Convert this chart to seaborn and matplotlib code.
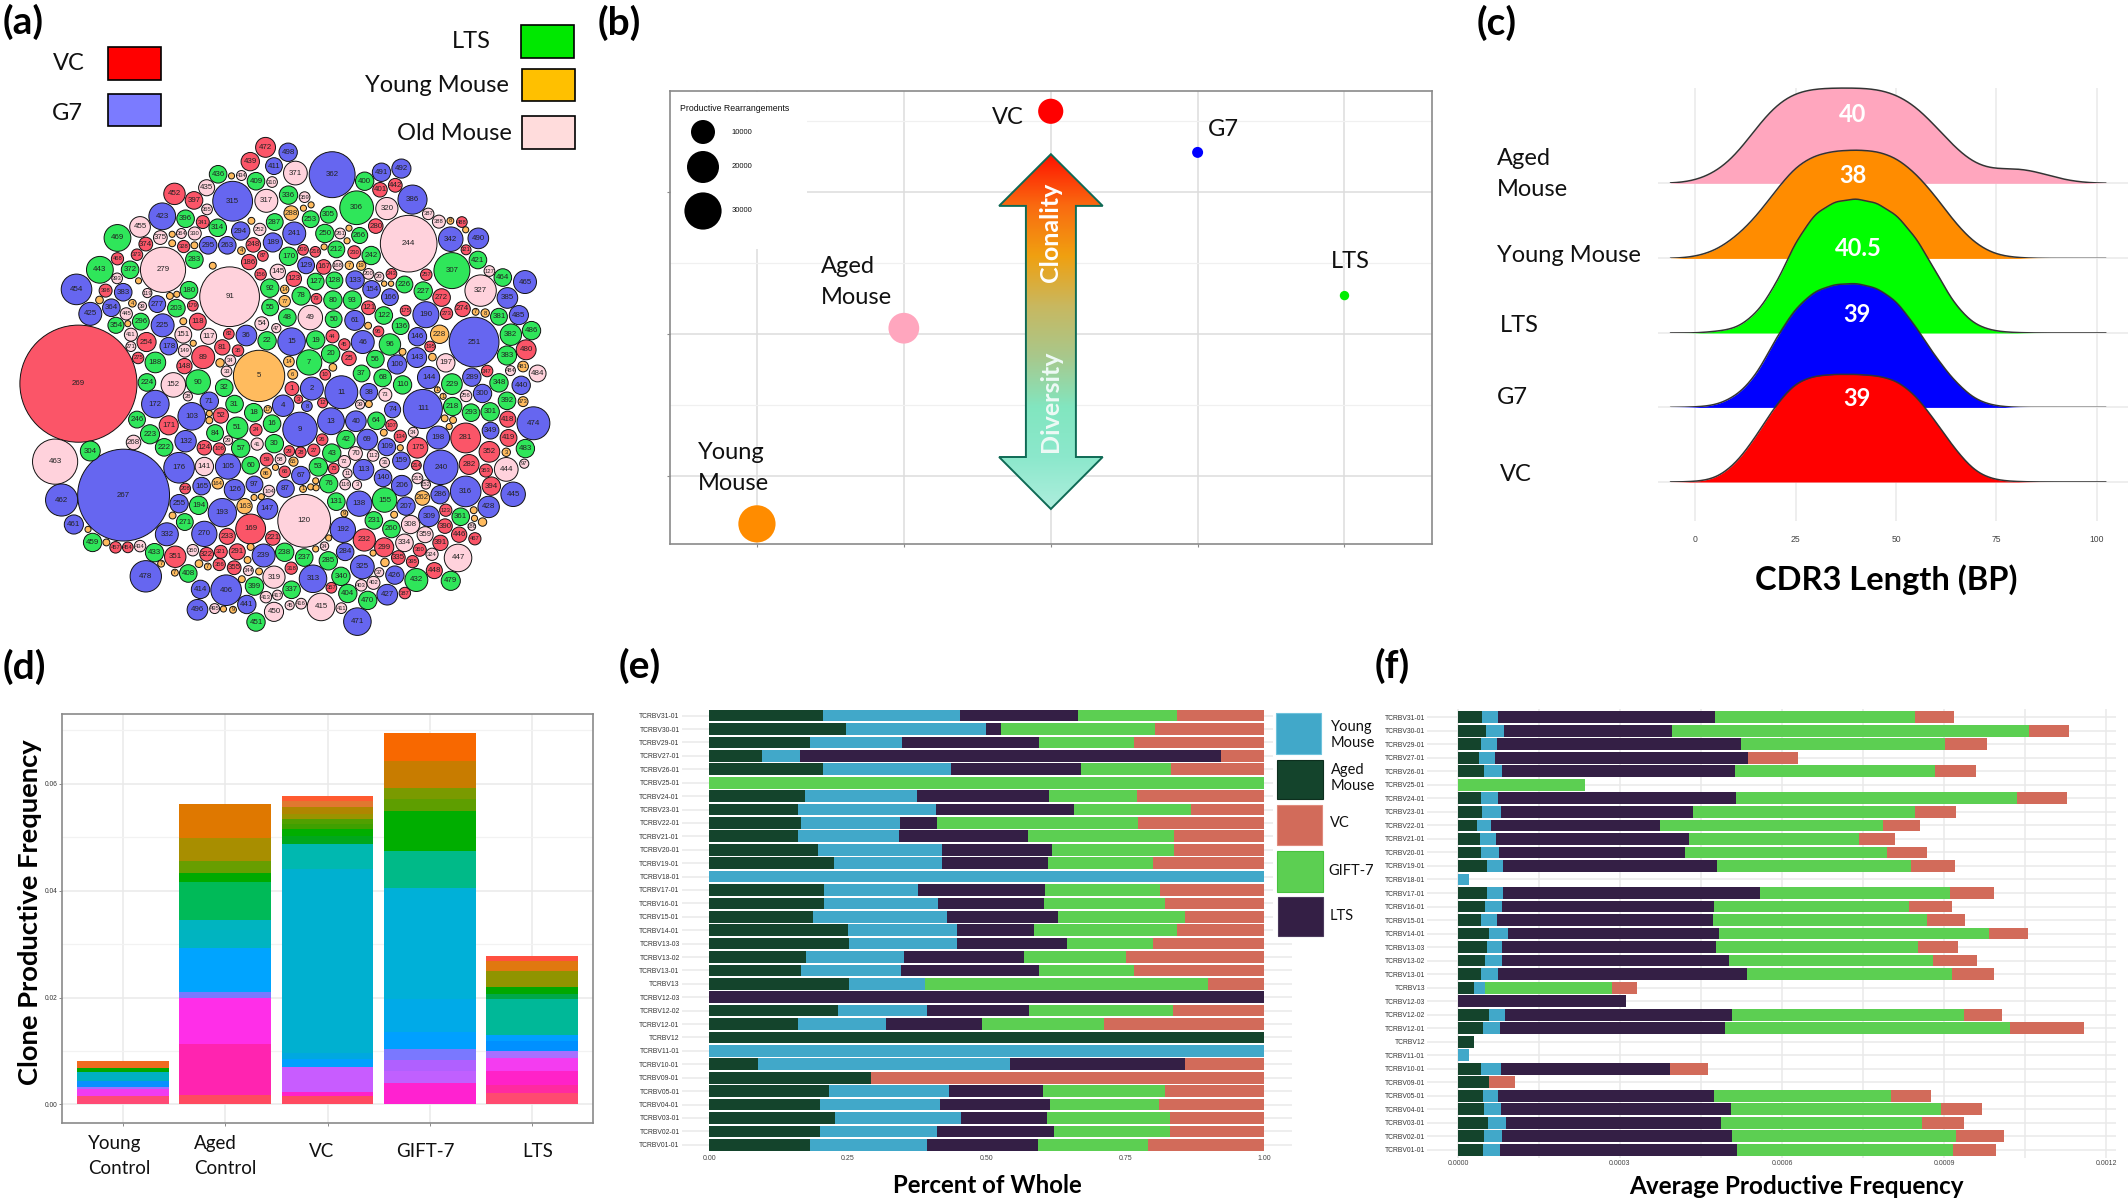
import numpy as np
import pandas as pd
import seaborn as sns
import matplotlib
matplotlib.use("Agg")
import matplotlib.pyplot as plt
from matplotlib.colors import LinearSegmentedColormap
from matplotlib.patches import Polygon, Rectangle
from matplotlib.ticker import MultipleLocator

# (a) clone bubbles: (clone id, x, y, radius), id 0 = label unreadable
vc_bubbles = [(269,205,940,153),(472,694,361,26),(439,654,396,24),(452,456,475,28),(397,507,491,23),(341,530,544,17),(442,1033,454,18),(401,993,465,19),(280,982,554,19),(374,381,598,18),(373,358,624,15),(328,480,604,16),(468,307,634,16),(398,276,712,17),(179,504,749,14),(118,517,788,22),(254,383,838,25),(275,361,877,15),(148,482,897,20),(89,531,875,30),(81,581,851,20),(35,622,859,15),(82,598,818,14),(248,662,600,19),(186,651,642,20),(87,687,627,14),(156,681,672,15),(123,768,683,20),(209,792,612,14),(216,824,617,14),(167,846,654,19),(230,926,618,17),(243,1023,671,14),(257,1114,673,15),(79,827,732,14),(121,963,754,18),(175,1060,761,14),(272,1154,729,23),(273,1167,768,16),(274,1209,757,20),(95,989,812,14),(44,869,824,17),(45,900,844,15),(25,912,878,19),(10,850,918,14),(1,763,952,18),(3,780,978,11),(12,843,987,13),(195,1124,849,14),(347,1273,909,15),(480,1375,857,26),(488,1207,544,14),(321,1218,612,13),(52,577,1018,20),(171,441,1042,25),(124,534,1097,19),(106,573,1100,16),(24,669,1053,16),(59,697,1126,17),(66,744,1156,15),(29,756,1105,14),(28,786,1108,14),(27,820,1103,16),(26,842,1077,15),(75,872,1148,14),(107,1023,1042,15),(134,1046,1069,16),(175,1091,1097,27),(214,1088,1140,13),(281,1217,1073,39),(282,1226,1138,26),(352,1279,1107,27),(353,1270,1153,17),(418,1327,1027,21),(419,1329,1073,22),(394,1284,1191,24),(123,1165,1250,16),(390,1163,1289,19),(391,1151,1330,20),(446,1200,1310,20),(467,1241,1320,16),(360,1097,1347,17),(395,1078,1376,16),(335,1041,1366,18),(299,1004,1341,25),(232,952,1323,29),(448,1135,1398,21),(387,1058,1453,15),(357,866,1440,14),(318,761,1392,16),(355,612,1391,18),(356,573,1383,16),(291,620,1352,21),(321,577,1352,17),(322,540,1358,18),(233,594,1314,21),(221,713,1318,19),(169,655,1296,39),(351,458,1364,28),(208,484,1197,14),(457,302,1341,15),(454,334,1341,14)]
g7_bubbles = [(498,753,373,24),(411,716,407,22),(362,868,428,60),(491,997,422,24),(492,1049,413,25),(386,1078,489,38),(315,608,493,52),(423,424,530,35),(294,629,566,24),(241,769,572,30),(189,713,594,25),(295,544,601,23),(263,594,601,23),(342,1178,586,32),(490,1250,584,27),(129,800,650,22),(133,928,686,24),(154,971,709,23),(166,1019,728,22),(465,1372,691,30),(385,1326,730,27),(485,1356,772,25),(454,200,709,40),(383,322,716,23),(364,291,754,23),(277,411,745,22),(425,236,769,30),(225,425,797,30),(36,644,822,27),(190,1113,771,34),(61,927,785,26),(15,762,837,36),(46,948,838,30),(146,1091,825,24),(178,441,848,23),(251,1239,838,65),(143,1089,876,26),(100,1038,893,25),(144,1120,925,29),(2,815,952,30),(11,892,961,43),(38,964,961,23),(172,406,990,36),(71,547,983,24),(4,740,994,28),(8,802,995,14),(289,1233,924,24),(300,1261,964,24),(440,1362,944,24),(103,501,1020,36),(9,784,1052,45),(13,865,1032,35),(40,930,1032,27),(74,1026,1004,21),(111,1105,1002,51),(132,485,1081,28),(349,1282,1055,22),(474,1394,1037,43),(198,1145,1072,30),(69,960,1077,27),(109,1011,1095,23),(159,1049,1129,23),(176,468,1146,40),(105,596,1143,33),(240,1152,1145,45),(113,950,1151,27),(67,786,1165,24),(140,1001,1171,23),(206,1050,1190,27),(165,527,1191,23),(97,665,1187,22),(87,746,1197,23),(126,613,1200,27),(316,1217,1204,40),(286,1150,1212,24),(445,1341,1211,32),(462,161,1225,42),(267,323,1213,120),(255,468,1234,24),(138,939,1234,33),(207,1061,1240,24),(428,1277,1242,28),(147,699,1247,27),(193,581,1256,37),(309,1121,1265,27),(461,193,1285,25),(192,896,1298,33),(332,436,1309,30),(270,534,1308,33),(284,902,1352,23),(239,689,1361,30),(325,947,1389,31),(426,1032,1409,24),(313,818,1418,36),(478,381,1412,41),(414,524,1444,24),(406,591,1446,40),(427,1012,1457,27),(441,645,1481,24),(496,516,1494,27),(471,934,1523,36)]
lts_bubbles = [(436,570,427,23),(409,669,444,23),(400,953,444,24),(336,754,478,24),(306,932,509,44),(305,859,526,22),(396,485,536,23),(253,812,537,22),(287,718,544,22),(314,569,558,23),(250,849,572,24),(266,940,577,21),(469,307,583,35),(283,508,636,23),(170,754,628,24),(212,879,611,22),(242,970,626,24),(421,1249,637,23),(307,1181,663,47),(443,261,661,35),(372,340,661,23),(127,825,690,22),(128,874,687,22),(226,1057,697,22),(464,1314,680,23),(227,1106,713,24),(180,494,711,23),(92,705,706,24),(78,787,725,24),(80,870,735,24),(93,921,735,24),(203,461,755,23),(55,706,753,22),(48,751,778,23),(50,872,782,22),(122,1003,773,23),(381,1304,776,22),(136,1047,799,22),(296,368,788,22),(354,303,797,21),(22,698,835,24),(19,825,833,24),(382,1335,820,28),(486,1389,810,24),(96,1019,844,28),(20,864,867,24),(56,981,880,23),(7,808,888,33),(383,1325,871,25),(188,406,888,27),(37,945,915,22),(68,1000,926,23),(110,1052,943,24),(224,384,937,23),(90,518,936,32),(32,586,950,23),(229,1181,941,27),(348,1304,938,24),(392,1325,982,23),(31,613,990,23),(18,663,1011,24),(218,1183,996,24),(293,1231,1011,23),(301,1281,1009,24),(16,711,1038,23),(64,984,1031,23),(51,620,1048,28),(246,358,1028,22),(84,562,1061,22),(223,392,1064,25),(222,429,1096,23),(42,904,1077,24),(30,717,1087,24),(57,629,1098,24),(43,867,1110,24),(483,1373,1099,24),(304,236,1105,26),(60,655,1140,23),(53,832,1144,24),(76,859,1185,24),(131,879,1229,23),(155,1005,1225,32),(194,519,1238,24),(231,977,1275,23),(271,483,1279,22),(361,1204,1266,23),(260,1023,1296,23),(238,744,1353,24),(237,795,1366,23),(285,858,1374,24),(433,404,1354,24),(459,242,1329,24),(408,492,1405,23),(340,891,1412,24),(432,1088,1421,30),(479,1178,1423,25),(337,762,1445,23),(399,665,1436,24),(404,909,1454,24),(470,961,1471,24),(451,669,1524,24)]
young_bubbles = [(5,677,921,67),(228,1149,819,24),(288,761,522,19),(77,744,738,15),(14,755,886,14),(6,765,917,13),(163,639,1240,20),(164,569,1184,15),(65,767,1131,12),(86,695,1159,14),(262,1104,1220,19),(481,1367,898,14),(373,1367,984,13),(3,1323,1108,11),(14,744,709,11),(7,913,650,11),(19,944,651,12),(0,605,431,8),(0,657,541,9),(0,793,510,8),(0,813,502,8),(0,912,559,8),(0,907,590,8),(0,847,605,8),(4,631,614,10),(0,556,651,9),(0,450,574,8),(0,450,596,9),(0,508,601,9),(0,444,725,9),(0,462,721,8),(4,346,743,10),(0,362,688,8),(0,260,735,10),(0,334,793,8),(0,479,787,9),(0,505,841,8),(0,575,889,11),(0,962,798,9),(0,1022,695,7),(0,1004,695,7),(7,1243,764,9),(8,1268,767,11),(0,1052,862,9),(0,1130,875,10),(0,870,900,10),(1,1143,955,8),(1,1158,971,8),(17,700,1003,10),(0,964,990,9),(0,1162,1025,9),(0,1184,1029,9),(0,1174,1045,8),(0,1003,1060,9),(0,1046,1097,8),(0,547,1013,8),(0,547,1030,9),(0,720,1145,8),(0,1217,563,8),(8,1177,541,9),(0,655,1340,9),(0,647,1372,9),(0,677,1400,9),(0,632,1419,9),(1,792,1198,9),(0,812,1193,8),(0,825,1178,8),(0,826,1195,8),(0,683,1217,8),(0,664,1219,8),(9,900,1258,9),(0,1030,1261,9),(0,859,1318,8),(0,825,1345,8),(0,975,1355,8),(0,1006,1378,11),(0,1238,1250,9),(0,1240,1270,8),(0,1261,1279,11),(0,451,1263,9),(0,230,1297,8),(0,278,1329,9),(7,421,1381,9),(7,457,1403,9),(0,520,1381,10),(7,543,1388,9),(0,584,1492,8),(9,609,1494,9)]
old_bubbles = [(371,772,424,31),(317,696,492,30),(435,540,460,21),(455,366,556,27),(320,1011,511,29),(244,1068,597,74),(279,426,661,59),(330,509,572,17),(375,419,582,18),(365,541,513,14),(364,474,572,13),(359,796,483,14),(434,631,430,13),(310,711,446,14),(252,679,562,16),(261,889,572,14),(387,1119,524,15),(388,1147,543,17),(91,600,727,78),(145,726,666,20),(327,1256,712,41),(127,1279,664,14),(49,811,778,32),(54,684,793,18),(47,722,804,12),(168,883,650,13),(200,963,671,14),(20,991,678,12),(393,306,682,14),(119,385,718,12),(445,330,769,16),(39,372,750,11),(411,342,820,17),(271,342,849,13),(151,479,820,22),(117,545,824,21),(149,483,859,17),(34,602,883,14),(33,592,910,14),(197,1165,889,24),(484,1334,908,13),(484,1405,915,22),(152,453,943,32),(28,491,971,12),(73,1007,967,17),(256,1218,970,15),(39,941,991,12),(34,1080,1059,13),(268,349,1084,19),(463,144,1131,59),(141,534,1143,24),(29,596,1079,12),(41,672,1088,16),(58,733,1125,14),(72,900,1131,16),(70,929,1111,18),(112,975,1116,15),(31,1005,1133,13),(11,908,1160,12),(215,1091,1172,14),(152,1113,1187,12),(116,902,1187,14),(3,933,1188,12),(104,703,1203,15),(120,795,1276,69),(444,1323,1150,31),(97,1370,1136,12),(308,1073,1285,24),(359,1111,1310,21),(334,1057,1330,23),(324,1129,1358,16),(447,1197,1367,36),(186,1233,1290,10),(350,504,1348,15),(434,366,1338,15),(34,848,1338,11),(319,716,1414,29),(344,649,1398,13),(403,944,1434,15),(402,976,1428,17),(37,991,1402,12),(415,839,1487,36),(413,695,1463,15),(417,725,1458,13),(45,757,1483,12),(416,787,1479,14),(411,892,1490,14),(450,716,1499,25),(495,561,1491,13)]

# (b) clonality vs diversity
b_groups = ["Young Mouse", "Aged Mouse", "VC", "G7", "LTS"]
b_xpos = [0, 1, 2, 3, 4]
b_clonality = [-0.34, 1.04, 2.57, 2.28, 1.27]
b_rearrangements = [30000, 20500, 13700, 2620, 1910]

# (c) CDR3 length ridges, height of each curve at cdr3_x
cdr3_x = [0,5,10,15,20,25,30,35,40,45,50,55,60,65,70,75,80,85,90,95,100]
aged_ridge = [5,26,66,141,206,236,244,245,245,244,231,201,146,86,43,34,41,31,13,3,0]
young_ridge = [4,19,54,104,174,239,267,277,279,277,261,219,159,86,34,8,2,0,0,0,0]
lts_ridge = [0,4,11,46,121,236,311,339,346,336,306,246,156,66,18,4,1,0,0,0,0]
g7_ridge = [1,5,27,77,177,257,302,317,320,309,277,207,127,62,17,3,0,0,0,0,0]
vc_ridge = [1,7,44,114,199,259,274,277,277,274,264,224,154,79,21,4,1,0,0,0,0]
ridge_medians = ["40", "38", "40.5", "39", "39"]

# (d) stacked clone frequencies, top of every band
d_labels = ["Young Control", "Aged Control", "VC", "GIFT-7", "LTS"]
d_young = [.00154,.00288,.00321,.00442,.00609,.00690,.00804]
d_aged = [.00174,.01125,.01995,.02103,.02926,.03448,.04172,.04332,.04547,.04995,.05618]
d_vc = [.00154,.00241,.00696,.00844,.00958,.04406,.04881,.05022,.05156,.05243,.05343,.05444,.05564,.05678,.05779]
d_gift = [.00395,.00623,.00824,.01038,.01346,.01975,.04051,.04741,.05290,.05497,.05718,.05919,.06435,.06957]
d_lts = [.00208,.00368,.00623,.00870,.00991,.01192,.01306,.01975,.02062,.02190,.02498,.02685,.02786]

# (e) and (f) V gene usage, right end of each stacked segment
genes = ["TCRBV31-01","TCRBV30-01","TCRBV29-01","TCRBV27-01","TCRBV26-01","TCRBV25-01","TCRBV24-01","TCRBV23-01","TCRBV22-01","TCRBV21-01","TCRBV20-01","TCRBV19-01","TCRBV18-01","TCRBV17-01","TCRBV16-01","TCRBV15-01","TCRBV14-01","TCRBV13-03","TCRBV13-02","TCRBV13-01","TCRBV13","TCRBV12-03","TCRBV12-02","TCRBV12-01","TCRBV12","TCRBV11-01","TCRBV10-01","TCRBV09-01","TCRBV05-01","TCRBV04-01","TCRBV03-01","TCRBV02-01","TCRBV01-01"]
e_aged = [.205,.246,.182,.094,.205,0,.173,.159,.166,.160,.195,.225,0,.206,.206,.186,.250,.252,.174,.166,.251,0,.232,.160,1,0,.088,.291,.216,.200,.226,.199,.181]
e_young = [.452,.498,.348,.164,.436,0,.375,.409,.343,.341,.420,.419,1,.377,.412,.429,.446,.446,.351,.345,.389,0,.393,.318,1,1,.542,.291,.432,.416,.454,.410,.392]
e_lts = [.665,.525,.595,.923,.670,0,.613,.658,.411,.574,.618,.610,1,.605,.603,.628,.586,.645,.568,.594,.389,1,.576,.491,1,1,.858,.291,.601,.614,.609,.622,.593]
e_gift = [.843,.804,.765,.923,.832,1,.771,.869,.772,.837,.838,.800,1,.812,.821,.858,.843,.800,.751,.765,.899,1,.836,.712,1,1,.858,.291,.822,.810,.830,.830,.791]
e_vc = [1] * 33
# f values are in units of 1e-6
f_aged = [43.8,52.5,43.2,39.5,48.2,0,43.2,43.8,35.8,41.4,42,53.1,0,53.1,50,42,58,53.1,49.4,42,29,0,56.8,46.3,29,0,43.2,58,46.3,47.5,56.2,48.2,46.3]
f_young = [74,84.6,72.8,67.9,82.1,0,74,79,60.5,71,75.9,82.7,21,84,80.9,72.8,92,82.1,80.9,74,50,0,87,77.8,29,21,79.6,58,74.7,80.2,89.5,82.1,78.4]
f_lts = [476.6,396.9,523.5,536.4,513.6,0,515.4,434.6,373.5,428.4,421,479,21,559.3,474.7,472.8,484,478.4,501.3,535.2,50,311.7,508,495,29,21,392,58,474,506.2,486.4,508,517.3]
f_gift = [845.6,1057,901.8,536.4,882.7,235.2,1035.8,846.9,786.4,743.2,793.8,838.9,21,911.7,835.8,868.5,984,851.2,879.6,914.2,285.8,311.7,936.4,1022.2,29,21,392,58,802.4,893.8,859.8,922.8,916.6]
f_vc = [918.5,1132,980.2,630.2,958.6,235.2,1127,922.2,854.9,808.6,867.9,921,21,993.2,914.8,938.9,1055,925.9,961.1,993.2,332.1,311.7,1006.8,1159.9,29,21,463,104.9,876.5,970.3,937.6,1010.5,995.6]

# Styles
W, H = 2128, 1201
GRID = "#e9e9e9"
FRAME = "#8a8a8a"
BUBBLE_COLORS = {"VC": "#fb5568", "G7": "#6666f0", "LTS": "#2fe65a", "Young": "#ffbb5e", "Old": "#ffd2dc"}
RIDGE_COLORS = ["#ffa6be", "#ff8c00", "#00ff00", "#0000ff", "#ff0000"]
STACK_COLORS = {"vc": "#d26b5a", "gift": "#5ccf52", "lts": "#341f45", "young": "#41a8c9", "aged": "#14442c"}
BAND_YOUNG = ["#ff4a75", "#f03cf0", "#a070ff", "#0a90ff", "#00b0c0", "#00a800", "#f06a20"]
BAND_AGED = ["#ff4a60", "#ff24b0", "#ff2ee8", "#7a78ff", "#00a4ff", "#00b4c0", "#00ba58", "#00aa00", "#689e00", "#a88e00", "#df7800"]
BAND_VC = ["#ff4a60", "#ff22c8", "#c85cff", "#00a0ff", "#00a8e0", "#00b0d0", "#00b8b0", "#00a81c", "#00ae00", "#3fa000", "#50a000", "#9a9400", "#b08600", "#e07830", "#ff5a30"]
BAND_GIFT = ["#ff22d0", "#c060ff", "#b060ff", "#7a78ff", "#00a0ff", "#00aae8", "#00b0d8", "#00ba88", "#00ae00", "#00ae00", "#5e9e00", "#7a9a00", "#c87c00", "#f86800"]
BAND_LTS = ["#ff4a70", "#ff2aa0", "#ff22c8", "#f43cf0", "#a870ff", "#0090ff", "#00a0ff", "#00b898", "#00a848", "#00a800", "#909400", "#e07810", "#ff5040"]
ARIAL = ["Liberation Sans"]

sns.set_style("white")
plt.rcParams["font.family"] = ["Lato", "DejaVu Sans"]
fig = plt.figure(figsize=(W / 100, H / 100), dpi=100)


def px_axes(left, top, right, bottom):
    ax = fig.add_axes([left / W, 1 - bottom / H, (right - left) / W, (bottom - top) / H])
    ax.patch.set_alpha(0)
    return ax


def clean(ax):
    ax.set_xlabel("")
    ax.set_ylabel("")


# Panel a: packed bubbles
rows = []
for name, bubbles in [("VC", vc_bubbles), ("G7", g7_bubbles), ("LTS", lts_bubbles), ("Young", young_bubbles), ("Old", old_bubbles)]:
    part = pd.DataFrame(bubbles, columns=["clone", "x", "y", "r"])
    part["group"] = name
    rows.append(part)
bubbles_df = pd.concat(rows, ignore_index=True)
bubbles_df["area"] = bubbles_df["r"] ** 2

ax_a = px_axes(0, 0, 600, 640)
max_area = bubbles_df["area"].max()
max_s = (2 * 72 / 100 / 2.613) ** 2 * max_area
sns.scatterplot(data=bubbles_df, x="x", y="y", hue="group", palette=BUBBLE_COLORS, size="area",
                sizes=(0, max_s), size_norm=(0, max_area), edgecolor="#111111", linewidth=0.7,
                legend=False, ax=ax_a)
ax_a.set_xlim(0, 1568)
ax_a.set_ylim(1568, 0)
ax_a.axis("off")
for row in bubbles_df.itertuples():
    if row.clone:
        ax_a.text(row.x, row.y, str(row.clone), ha="center", va="center", color="#222222",
                  fontsize=5.7 if row.r >= 18 else 4.2, family=ARIAL)

# Panel b: clonality scatter
ax_b = px_axes(669.7, 91, 1431.6, 544)
sns.scatterplot(x=b_xpos, y=b_clonality, hue=b_groups, palette=dict(zip(b_groups, ["#ff8c00", "#ffa6be", "#ff0000", "#0000ff", "#00ee00"])),
                size=b_rearrangements, sizes=(0, 718), size_norm=(0, 30000), linewidth=0, legend=False, ax=ax_b)
ax_b.set_xlim(-0.594, 4.593)
ax_b.set_ylim(-0.482, 2.713)
ax_b.set_xticks(b_xpos)
ax_b.set_yticks([0, 1, 2])
ax_b.set_yticks([0.5, 1.5, 2.5], minor=True)
ax_b.set_xticklabels([])
ax_b.set_yticklabels([])
ax_b.tick_params(axis="both", which="major", length=2, color=FRAME, bottom=True, left=True)
ax_b.grid(True, which="major", color="#dddddd", lw=1.1)
ax_b.grid(True, which="minor", color="#f0f0f0", lw=0.9)
ax_b.set_axisbelow(True)
for s in ax_b.spines.values():
    s.set_color(FRAME)
    s.set_linewidth(1.2)

# Panel c: ridgeline density
ridge_bases = [183.3, 258.4, 333, 407.4, 482]
ax_c = px_axes(1657.6, 87.5, 2128, 521)
ax_c.set_xlim(-9.4, 107.8)
ax_c.set_ylim(-0.522, 5.28)
ax_c.set_xticks([0, 25, 50, 75, 100])
ax_c.set_yticks([0, 1, 2, 3, 4])
ax_c.set_yticklabels([])
ax_c.grid(True, color=GRID, lw=1.1)
ax_c.tick_params(axis="x", length=0, pad=10, labelsize=6.2)
for t in ax_c.get_xticklabels():
    t.set_family(ARIAL)
    t.set_color("#444444")
sns.despine(ax=ax_c, left=True, bottom=True)

ridges = [aged_ridge, young_ridge, lts_ridge, g7_ridge, vc_ridge]
for base, heights, color in zip(ridge_bases, ridges, RIDGE_COLORS):
    ax_r = px_axes(1657.6, base - 150, 2128, base)
    scale = 5 * sum(heights)
    for filled in (True, False):
        sns.kdeplot(x=cdr3_x, weights=heights, bw_method=0.22, gridsize=500, cut=4, clip=(-6.2, 102.3),
                    fill=filled, color=color if filled else "#333333", alpha=1 if filled else None,
                    linewidth=0 if filled else 1.1, ax=ax_r)
    ax_r.set_xlim(-9.4, 107.8)
    ax_r.set_ylim(0, 150 * 2.57 / scale)
    ax_r.axis("off")

# Panel d: stacked frequency bars, tallest band painted first
ax_d = px_axes(62, 714.4, 593, 1123)
for name, tops, colors in zip(d_labels, [d_young, d_aged, d_vc, d_gift, d_lts], [BAND_YOUNG, BAND_AGED, BAND_VC, BAND_GIFT, BAND_LTS]):
    for top, color in zip(tops[::-1], colors[::-1]):
        sns.barplot(x=[name], y=[top], order=d_labels, color=color, saturation=1, width=0.9, linewidth=0, ax=ax_d)
clean(ax_d)
ax_d.set_xlim(-0.6, 4.6)
ax_d.set_ylim(-0.00348, 0.0730)
ax_d.set_xticks(range(5))
ax_d.set_xticklabels([])
ax_d.yaxis.set_major_locator(MultipleLocator(0.02))
ax_d.yaxis.set_minor_locator(MultipleLocator(0.01))
ax_d.set_yticks([0, 0.02, 0.04, 0.06])
ax_d.set_yticklabels(["0.00", "0.02", "0.04", "0.06"], fontsize=4.8, family=ARIAL, color="#333333")
ax_d.tick_params(axis="both", which="major", length=2, width=0.7, color=FRAME, pad=1.5, bottom=True, left=True)
ax_d.grid(True, which="major", color=GRID, lw=1.1)
ax_d.grid(True, which="minor", axis="y", color="#f2f2f2", lw=0.9)
ax_d.set_axisbelow(True)
for s in ax_d.spines.values():
    s.set_color(FRAME)
    s.set_linewidth(1.2)

# Panels e and f: stacked gene usage, longest segment painted first
e_df = pd.DataFrame({"gene": genes, "aged": e_aged, "young": e_young, "lts": e_lts, "gift": e_gift, "vc": e_vc})
f_df = pd.DataFrame({"gene": genes, "aged": f_aged, "young": f_young, "lts": f_lts, "gift": f_gift, "vc": f_vc})
f_df[["aged", "young", "lts", "gift", "vc"]] *= 1e-6


def stacked_genes(ax, frame):
    for col in ["vc", "gift", "lts", "young", "aged"]:
        sns.barplot(data=frame, y="gene", x=col, order=genes, orient="h", color=STACK_COLORS[col],
                    saturation=1, width=0.87, linewidth=0, ax=ax)
    clean(ax)
    ax.tick_params(axis="both", length=0, pad=1.5)
    ax.grid(True, axis="y", color=GRID, lw=1.1)
    ax.set_axisbelow(True)
    sns.despine(ax=ax, left=True, bottom=True)
    for t in ax.get_yticklabels():
        t.set_fontsize(4.9)
        t.set_family(ARIAL)
        t.set_color("#333333")


ax_e = px_axes(681.7, 707.6, 1291.7, 1152.8)
stacked_genes(ax_e, e_df)
ax_e.set_xlim(-0.05, 1.05)
ax_e.set_ylim(32.6, -0.6)
ax_e.set_xticks([0, 0.25, 0.5, 0.75, 1])
ax_e.set_xticklabels(["0.00", "0.25", "0.50", "0.75", "1.00"], fontsize=5, family=ARIAL, color="#444444")

ax_f = px_axes(1427, 709, 2116, 1158)
stacked_genes(ax_f, f_df)
ax_f.set_xlim(-5.74e-5, 1.2185e-3)
ax_f.set_ylim(32.6, -0.61)
ax_f.set_xticks([0, 0.0003, 0.0006, 0.0009, 0.0012])
ax_f.set_xticks([0.00015, 0.00045, 0.00075, 0.00105], minor=True)
ax_f.set_xticklabels(["0.0000", "0.0003", "0.0006", "0.0009", "0.0012"], fontsize=5, family=ARIAL, color="#444444")
ax_f.tick_params(axis="x", which="minor", length=0)
ax_f.grid(True, axis="x", which="both", color=GRID, lw=1.1)

# Overlay in picture pixels for legends, panel letters and free labels
ov = px_axes(0, 0, W, H)
ov.set_xlim(0, W)
ov.set_ylim(H, 0)
ov.axis("off")


def note(x, y, s, size=17, ha="left", **kw):
    ov.text(x, y, s, fontsize=size, ha=ha, va="center", color=kw.pop("color", "#111111"), **kw)


def swatch(x0, y0, x1, y1, face, edge="black", lw=1.2):
    ov.add_patch(Rectangle((x0, y0), x1 - x0, y1 - y0, facecolor=face, edgecolor=edge, linewidth=lw))


for letter, x, y in [("(a)", 3, 22), ("(b)", 598, 23), ("(c)", 1477, 23), ("(d)", 3, 667), ("(e)", 619, 666), ("(f)", 1375, 666)]:
    note(x, y, letter, size=28, fontweight="bold", color="black")

# legend of panel a
swatch(108.3, 47.3, 160.7, 79.6, "#ff0000")
swatch(108.3, 93.5, 160.7, 125.7, "#7b7bff")
swatch(520.9, 25.3, 573.7, 57.6, "#00e800")
swatch(522, 68.6, 575, 100.8, "#ffc000")
swatch(522, 116, 575, 148.6, "#ffdcdc")
note(85, 63, "VC", ha="right")
note(83, 113.5, "G7", ha="right")
note(491, 41, "LTS", ha="right")
note(509, 85.7, "Young Mouse", ha="right")
note(512, 134, "Old Mouse", ha="right")

# size legend of panel b sits on a white block
ov.add_patch(Rectangle((671, 92), 136, 157, facecolor="white", edgecolor="none"))
note(679.5, 108.7, "Productive Rearrangements", size=6.3, family=ARIAL)
ov.scatter([703, 703, 703], [132, 167, 211], s=[(2 * r * 0.72) ** 2 for r in (12, 16, 18.6)], c="black", linewidths=0)
for y, s in zip([132, 167, 211], ["10000", "20000", "30000"]):
    note(731.6, y, s, size=5.5, family=ARIAL)

# clonality arrow with a vertical gradient
cx = 1050.9
arrow_pts = [(cx, 154.2), (cx + 51.8, 205.9), (cx + 25, 205.9), (cx + 25, 457), (cx + 51.8, 457), (cx, 509),
             (cx - 51.8, 457), (cx - 25, 457), (cx - 25, 205.9), (cx - 51.8, 205.9)]
arrow_cmap = LinearSegmentedColormap.from_list("arrow", ["#ff1200", "#fa6a10", "#f0a010", "#c8b860", "#a8c88c", "#82e6c0", "#8ce8cc", "#aeeedd"])
grad = ov.imshow(np.linspace(0, 1, 256).reshape(-1, 1), cmap=arrow_cmap, aspect="auto",
                 extent=(cx - 52, cx + 52, 509, 154.2), zorder=3)
outline = Polygon(arrow_pts, closed=True, facecolor="none", edgecolor="#0f6a55", linewidth=1.4, zorder=4)
ov.add_patch(outline)
grad.set_clip_path(outline)
ov.set_xlim(0, W)
ov.set_ylim(H, 0)
note(cx, 232, "Clonality", size=18, ha="center", rotation=90, fontweight="bold", color="white", zorder=5)
note(cx, 401, "Diversity", size=18, ha="center", rotation=90, fontweight="bold", color="#eefaf6", zorder=5)
note(992, 118, "VC")
note(1207.8, 130, "G7")
note(1330.7, 262, "LTS")
note(820.5, 282, "Aged\nMouse", linespacing=1.55)
note(697.6, 468, "Young\nMouse", linespacing=1.55)

# labels of panel c
note(1497, 174, "Aged\nMouse", linespacing=1.55)
note(1497, 255, "Young Mouse")
note(1500, 325.7, "LTS")
note(1497, 397, "G7")
note(1500, 474.7, "VC")
for x, y, s in zip([1852.7, 1852.7, 1858, 1857, 1857], [115, 175.5, 249, 314, 398], ridge_medians):
    note(x, y, s, size=17, ha="center", fontweight="bold", color="white")
note(1886.7, 580, "CDR3 Length (BP)", size=23.5, ha="center", fontweight="bold", color="black")

# labels of panel d
note(30, 912, "Clone Productive Frequency", size=19.7, ha="center", rotation=90, fontweight="bold", color="black")
note(88, 1156, "Young\nControl", size=13.5, linespacing=1.6)
note(194, 1156, "Aged\nControl", size=13.5, linespacing=1.6)
note(322, 1151.6, "VC", size=13.5, ha="center")
note(425, 1151.6, "GIFT-7", size=13.5, ha="center")
note(538, 1151.6, "LTS", size=13.5, ha="center")

# legend of panels e and f, drawn over the grid ends
ov.add_patch(Rectangle((1273, 700), 60, 237, facecolor="white", edgecolor="none"))
swatch(1276, 712.7, 1321, 754, STACK_COLORS["young"], edge="#6fc3dc", lw=0.8)
swatch(1277.3, 760, 1322.7, 799, STACK_COLORS["aged"], edge="#0d2f1e", lw=0.8)
swatch(1276.7, 805, 1322, 845, STACK_COLORS["vc"], edge="#e08a7c", lw=0.8)
swatch(1277, 851, 1322.7, 892, STACK_COLORS["gift"], edge="#48c23f", lw=0.8)
swatch(1278, 897, 1323.3, 936, STACK_COLORS["lts"], edge="#4a3a5c", lw=0.8)
note(1330.7, 735, "Young\nMouse", size=10.5, linespacing=1.15)
note(1330.7, 778, "Aged\nMouse", size=10.5, linespacing=1.15)
note(1330, 822.7, "VC", size=10.5)
note(1328.7, 871, "GIFT-7", size=10.5)
note(1330, 916, "LTS", size=10.5)
note(987, 1185.5, "Percent of Whole", size=17.3, ha="center", fontweight="bold", color="black")
note(1796, 1187, "Average Productive Frequency", size=17.5, ha="center", fontweight="bold", color="black")

fig.savefig("out.png", dpi=100, facecolor="white")
